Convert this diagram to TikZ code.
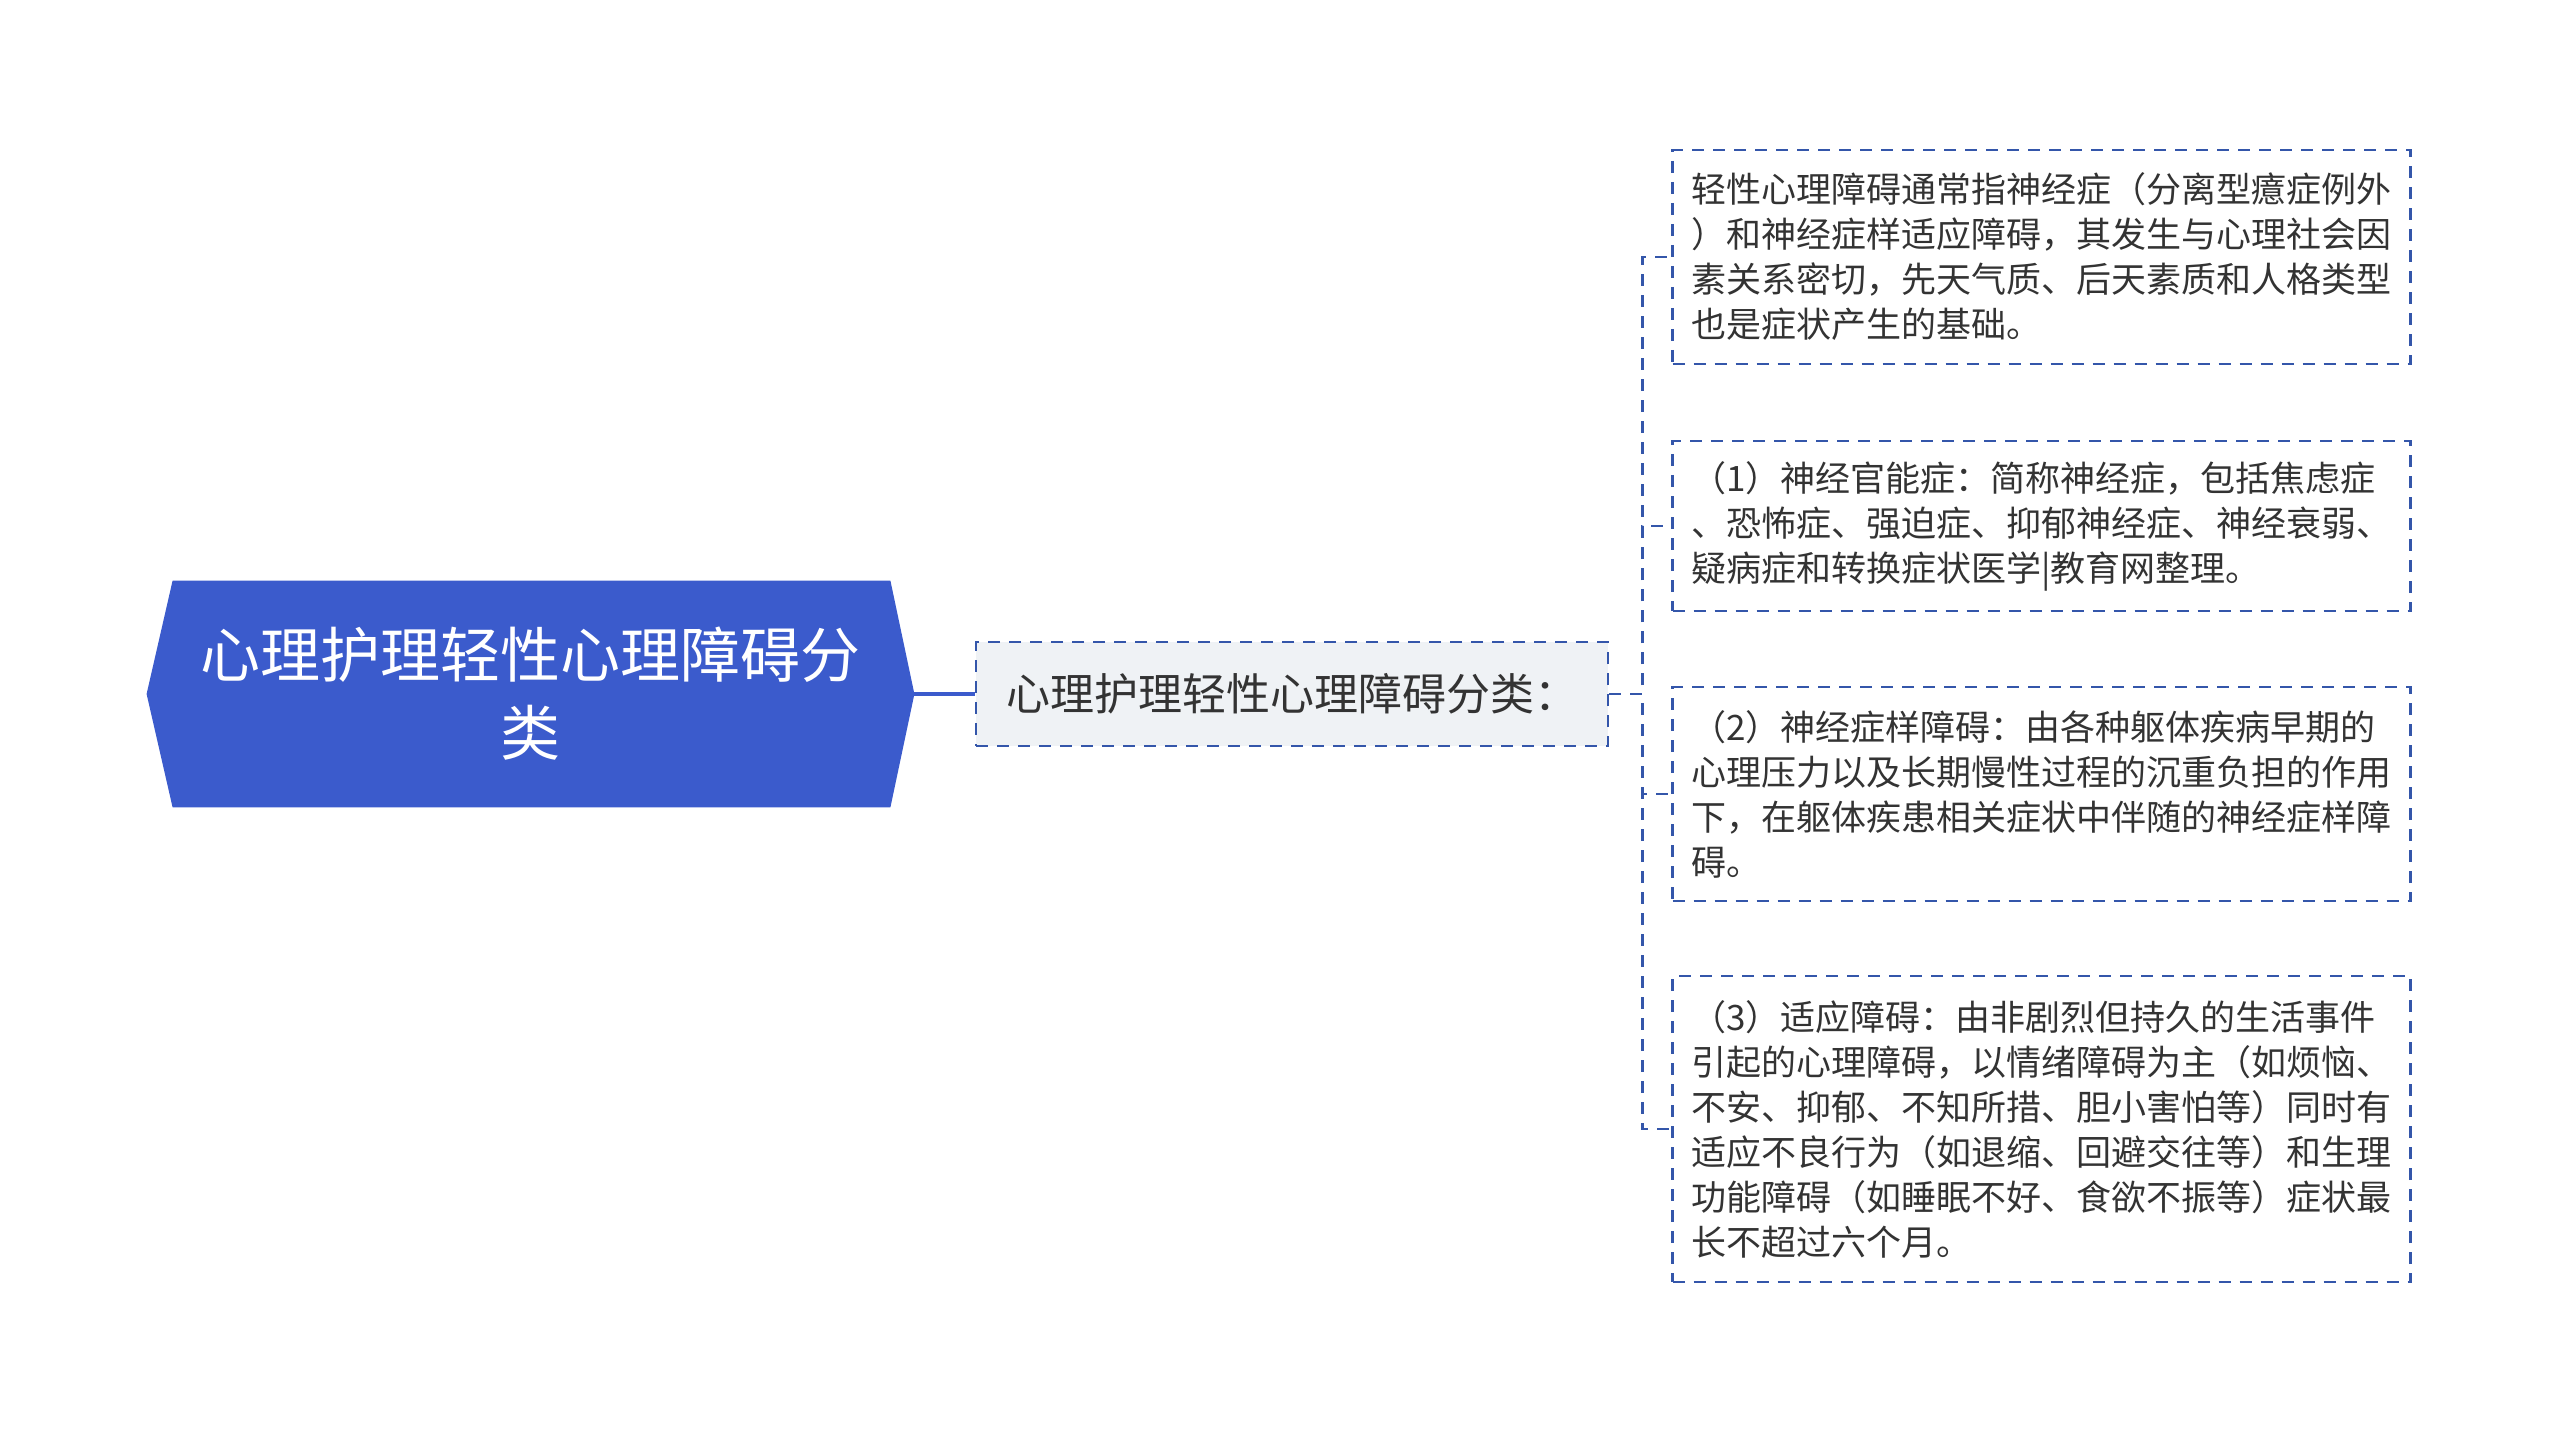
\documentclass[tikz,border=0pt]{standalone}
\usepackage{fontspec}
\setmainfont{Noto Sans CJK SC}
\usetikzlibrary{positioning, calc, backgrounds}

\definecolor{rootblue}{HTML}{3B5BCC}
\definecolor{linkblue}{HTML}{3456AA}
\definecolor{subgray}{HTML}{EFF2F5}
\definecolor{textgray}{HTML}{333333}

\begin{document}
\begin{tikzpicture}[x=0.5pt, y=-0.5pt,
  rootbox/.style={minimum width=383.5pt, minimum height=113pt, inner sep=0pt, align=center, text=white, font=\fontsize{30}{39}\selectfont},
  subbox/.style={draw=linkblue, fill=subgray, line width=1.3pt, dash pattern=on 6pt off 4.5pt, minimum width=316pt, minimum height=52pt, inner sep=0pt, text=textgray, font=\fontsize{22}{26}\selectfont},
  leafbox/.style={draw=linkblue, line width=1.3pt, dash pattern=on 6pt off 4.5pt, text width=350pt, inner xsep=9.5pt, inner ysep=0pt, align=left, text=textgray, font=\fontsize{17.5}{22.5}\selectfont},
  link/.style={draw=linkblue, line width=1.3pt, dash pattern=on 6pt off 4.5pt}]

\useasboundingbox (0,0) rectangle (2560,1433);

% Root node (blue hexagon)
\node[rootbox] (root) at (530.5,694) {心理护理轻性心理障碍分\\类};
\begin{scope}[on background layer]
  \fill[rootblue] (root.west) -- ([xshift=13pt]root.north west) -- ([xshift=-12pt]root.north east)
    -- (root.east) -- ([xshift=-12pt]root.south east) -- ([xshift=13pt]root.south west) -- cycle;
\end{scope}

% Sub node
\node[subbox] (sub) at (1292,694) {心理护理轻性心理障碍分类：};
\draw[rootblue, line width=2.2pt] (root.east) -- (sub.west);

% Leaves
\node[leafbox, minimum height=107pt] (leafA) at (2041.5,257)
  {轻性心理障碍通常指神经症（分离型癔症例外\\）和神经症样适应障碍，其发生与心理社会因\\素关系密切，先天气质、后天素质和人格类型\\也是症状产生的基础。};
\node[leafbox, minimum height=85pt] (leafB) at (2041.5,526)
  {（1）神经官能症：简称神经症，包括焦虑症\\、恐怖症、强迫症、抑郁神经症、神经衰弱、\\疑病症和转换症状医学|教育网整理。};
\node[leafbox, minimum height=107pt] (leafC) at (2041.5,794)
  {（2）神经症样障碍：由各种躯体疾病早期的\\心理压力以及长期慢性过程的沉重负担的作用\\下，在躯体疾患相关症状中伴随的神经症样障\\碍。};
\node[leafbox, minimum height=153pt] (leafD) at (2041.5,1129)
  {（3）适应障碍：由非剧烈但持久的生活事件\\引起的心理障碍，以情绪障碍为主（如烦恼、\\不安、抑郁、不知所措、胆小害怕等）同时有\\适应不良行为（如退缩、回避交往等）和生理\\功能障碍（如睡眠不好、食欲不振等）症状最\\长不超过六个月。};

% Dashed elbow connectors
\foreach \n in {leafA,leafB,leafC,leafD}
{
    \draw[link] (sub.east) -- ++(16.5pt,0) |- (\n.west);
}

\end{tikzpicture}
\end{document}
